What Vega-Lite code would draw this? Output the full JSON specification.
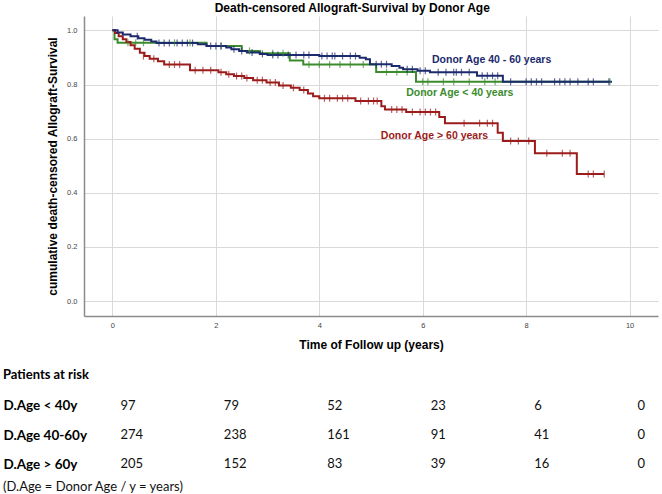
{
  "$schema": "https://vega.github.io/schema/vega-lite/v6.json",
  "padding": {"left": 3, "right": 4, "top": 2, "bottom": 0},
  "background": "white",
  "config": {
    "view": {"stroke": null},
    "font": "Liberation Sans"
  },
  "title": {"text": "(D.Age = Donor Age / y = years)", "orient": "bottom", "anchor": "start", "frame": "bounds", "font": "Lato", "fontSize": 13, "fontWeight": "normal", "color": "#111", "offset": 2},
  "spacing": 18,
  "datasets": {
    "steps": [
      {"g": "< 40", "t": 0, "s": 1.0},
      {"g": "< 40", "t": 0.04, "s": 0.967},
      {"g": "< 40", "t": 0.1, "s": 0.954},
      {"g": "< 40", "t": 1.82, "s": 0.942},
      {"g": "< 40", "t": 2.5, "s": 0.924},
      {"g": "< 40", "t": 2.85, "s": 0.915},
      {"g": "< 40", "t": 3.43, "s": 0.889},
      {"g": "< 40", "t": 3.69, "s": 0.874},
      {"g": "< 40", "t": 5.1, "s": 0.846},
      {"g": "< 40", "t": 5.87, "s": 0.81},
      {"g": "< 40", "t": 9.62, "s": 0.81},
      {"g": "> 60", "t": 0, "s": 1.0},
      {"g": "> 60", "t": 0.05, "s": 0.99},
      {"g": "> 60", "t": 0.12, "s": 0.978},
      {"g": "> 60", "t": 0.2, "s": 0.967},
      {"g": "> 60", "t": 0.27, "s": 0.957},
      {"g": "> 60", "t": 0.35, "s": 0.945},
      {"g": "> 60", "t": 0.43, "s": 0.932},
      {"g": "> 60", "t": 0.53, "s": 0.917},
      {"g": "> 60", "t": 0.62, "s": 0.905},
      {"g": "> 60", "t": 0.72, "s": 0.895},
      {"g": "> 60", "t": 0.88, "s": 0.886},
      {"g": "> 60", "t": 1.0, "s": 0.874},
      {"g": "> 60", "t": 1.5, "s": 0.853},
      {"g": "> 60", "t": 2.05, "s": 0.845},
      {"g": "> 60", "t": 2.2, "s": 0.838},
      {"g": "> 60", "t": 2.35, "s": 0.831},
      {"g": "> 60", "t": 2.55, "s": 0.824},
      {"g": "> 60", "t": 2.72, "s": 0.816},
      {"g": "> 60", "t": 2.98, "s": 0.807},
      {"g": "> 60", "t": 3.22, "s": 0.796},
      {"g": "> 60", "t": 3.45, "s": 0.788},
      {"g": "> 60", "t": 3.62, "s": 0.78},
      {"g": "> 60", "t": 3.78, "s": 0.767},
      {"g": "> 60", "t": 3.88, "s": 0.757},
      {"g": "> 60", "t": 4.0, "s": 0.749},
      {"g": "> 60", "t": 4.7, "s": 0.739},
      {"g": "> 60", "t": 5.2, "s": 0.72},
      {"g": "> 60", "t": 5.27, "s": 0.708},
      {"g": "> 60", "t": 5.68, "s": 0.698},
      {"g": "> 60", "t": 6.32, "s": 0.68},
      {"g": "> 60", "t": 6.43, "s": 0.657},
      {"g": "> 60", "t": 7.45, "s": 0.622},
      {"g": "> 60", "t": 7.55, "s": 0.591},
      {"g": "> 60", "t": 8.17, "s": 0.546},
      {"g": "> 60", "t": 8.98, "s": 0.469},
      {"g": "> 60", "t": 9.51, "s": 0.469},
      {"g": "40 - 60", "t": 0, "s": 1.0},
      {"g": "40 - 60", "t": 0.1, "s": 0.992},
      {"g": "40 - 60", "t": 0.2, "s": 0.985},
      {"g": "40 - 60", "t": 0.35, "s": 0.978},
      {"g": "40 - 60", "t": 0.5, "s": 0.971},
      {"g": "40 - 60", "t": 0.62, "s": 0.965},
      {"g": "40 - 60", "t": 0.75, "s": 0.959},
      {"g": "40 - 60", "t": 0.85, "s": 0.953},
      {"g": "40 - 60", "t": 1.65, "s": 0.949},
      {"g": "40 - 60", "t": 1.82, "s": 0.942},
      {"g": "40 - 60", "t": 2.2, "s": 0.937},
      {"g": "40 - 60", "t": 2.3, "s": 0.93},
      {"g": "40 - 60", "t": 2.45, "s": 0.924},
      {"g": "40 - 60", "t": 2.6, "s": 0.918},
      {"g": "40 - 60", "t": 2.85, "s": 0.913},
      {"g": "40 - 60", "t": 3.0, "s": 0.909},
      {"g": "40 - 60", "t": 4.0, "s": 0.905},
      {"g": "40 - 60", "t": 4.78, "s": 0.899},
      {"g": "40 - 60", "t": 4.9, "s": 0.893},
      {"g": "40 - 60", "t": 4.98, "s": 0.875},
      {"g": "40 - 60", "t": 5.4, "s": 0.868},
      {"g": "40 - 60", "t": 5.55, "s": 0.862},
      {"g": "40 - 60", "t": 5.62, "s": 0.856},
      {"g": "40 - 60", "t": 5.9, "s": 0.851},
      {"g": "40 - 60", "t": 6.14, "s": 0.845},
      {"g": "40 - 60", "t": 7.05, "s": 0.832},
      {"g": "40 - 60", "t": 7.55, "s": 0.81},
      {"g": "40 - 60", "t": 9.66, "s": 0.81}
    ],
    "censor": [
      {"g": "< 40", "t": 0.3, "s": 0.954}, {"g": "< 40", "t": 0.45, "s": 0.954}, {"g": "< 40", "t": 0.6, "s": 0.954},
      {"g": "< 40", "t": 1.2, "s": 0.954}, {"g": "< 40", "t": 1.5, "s": 0.954}, {"g": "< 40", "t": 2.1, "s": 0.942},
      {"g": "< 40", "t": 2.65, "s": 0.924}, {"g": "< 40", "t": 3.1, "s": 0.915}, {"g": "< 40", "t": 3.3, "s": 0.915},
      {"g": "< 40", "t": 3.8, "s": 0.874}, {"g": "< 40", "t": 4.0, "s": 0.874}, {"g": "< 40", "t": 4.2, "s": 0.874},
      {"g": "< 40", "t": 4.4, "s": 0.874}, {"g": "< 40", "t": 4.6, "s": 0.874}, {"g": "< 40", "t": 4.85, "s": 0.874},
      {"g": "< 40", "t": 5.3, "s": 0.846}, {"g": "< 40", "t": 5.5, "s": 0.846}, {"g": "< 40", "t": 5.7, "s": 0.846},
      {"g": "< 40", "t": 6.0, "s": 0.81}, {"g": "< 40", "t": 6.1, "s": 0.81}, {"g": "< 40", "t": 6.4, "s": 0.81},
      {"g": "< 40", "t": 6.6, "s": 0.81}, {"g": "< 40", "t": 6.9, "s": 0.81}, {"g": "< 40", "t": 7.2, "s": 0.81},
      {"g": "< 40", "t": 7.4, "s": 0.81}, {"g": "< 40", "t": 9.62, "s": 0.81},
      {"g": "> 60", "t": 0.6, "s": 0.905}, {"g": "> 60", "t": 0.8, "s": 0.895}, {"g": "> 60", "t": 1.1, "s": 0.874},
      {"g": "> 60", "t": 1.2, "s": 0.874}, {"g": "> 60", "t": 1.3, "s": 0.874}, {"g": "> 60", "t": 1.6, "s": 0.853},
      {"g": "> 60", "t": 1.75, "s": 0.853}, {"g": "> 60", "t": 1.9, "s": 0.853}, {"g": "> 60", "t": 2.1, "s": 0.845},
      {"g": "> 60", "t": 2.25, "s": 0.838}, {"g": "> 60", "t": 2.4, "s": 0.831}, {"g": "> 60", "t": 2.5, "s": 0.831},
      {"g": "> 60", "t": 2.6, "s": 0.824}, {"g": "> 60", "t": 2.8, "s": 0.816}, {"g": "> 60", "t": 2.9, "s": 0.816},
      {"g": "> 60", "t": 3.05, "s": 0.807}, {"g": "> 60", "t": 3.15, "s": 0.807}, {"g": "> 60", "t": 3.3, "s": 0.796},
      {"g": "> 60", "t": 3.5, "s": 0.788}, {"g": "> 60", "t": 3.7, "s": 0.78}, {"g": "> 60", "t": 4.1, "s": 0.749},
      {"g": "> 60", "t": 4.2, "s": 0.749}, {"g": "> 60", "t": 4.35, "s": 0.749}, {"g": "> 60", "t": 4.45, "s": 0.749},
      {"g": "> 60", "t": 4.55, "s": 0.749}, {"g": "> 60", "t": 4.8, "s": 0.739}, {"g": "> 60", "t": 4.95, "s": 0.739},
      {"g": "> 60", "t": 5.05, "s": 0.739}, {"g": "> 60", "t": 5.12, "s": 0.739}, {"g": "> 60", "t": 5.4, "s": 0.708},
      {"g": "> 60", "t": 5.5, "s": 0.708}, {"g": "> 60", "t": 5.6, "s": 0.708}, {"g": "> 60", "t": 5.8, "s": 0.698},
      {"g": "> 60", "t": 5.95, "s": 0.698}, {"g": "> 60", "t": 6.05, "s": 0.698}, {"g": "> 60", "t": 6.15, "s": 0.698},
      {"g": "> 60", "t": 6.25, "s": 0.698}, {"g": "> 60", "t": 6.8, "s": 0.657}, {"g": "> 60", "t": 7.1, "s": 0.657},
      {"g": "> 60", "t": 7.25, "s": 0.657}, {"g": "> 60", "t": 7.35, "s": 0.657}, {"g": "> 60", "t": 7.7, "s": 0.591},
      {"g": "> 60", "t": 7.85, "s": 0.591}, {"g": "> 60", "t": 8.05, "s": 0.591}, {"g": "> 60", "t": 8.4, "s": 0.546},
      {"g": "> 60", "t": 8.7, "s": 0.546}, {"g": "> 60", "t": 8.85, "s": 0.546}, {"g": "> 60", "t": 9.2, "s": 0.469},
      {"g": "> 60", "t": 9.3, "s": 0.469}, {"g": "> 60", "t": 9.51, "s": 0.469},
      {"g": "40 - 60", "t": 0.48, "s": 0.978}, {"g": "40 - 60", "t": 0.9, "s": 0.953}, {"g": "40 - 60", "t": 1.0, "s": 0.953},
      {"g": "40 - 60", "t": 1.1, "s": 0.953}, {"g": "40 - 60", "t": 1.25, "s": 0.953}, {"g": "40 - 60", "t": 1.35, "s": 0.953},
      {"g": "40 - 60", "t": 1.45, "s": 0.953}, {"g": "40 - 60", "t": 1.55, "s": 0.953}, {"g": "40 - 60", "t": 1.9, "s": 0.942},
      {"g": "40 - 60", "t": 2.0, "s": 0.942}, {"g": "40 - 60", "t": 2.1, "s": 0.942}, {"g": "40 - 60", "t": 2.35, "s": 0.93},
      {"g": "40 - 60", "t": 2.5, "s": 0.924}, {"g": "40 - 60", "t": 2.7, "s": 0.918}, {"g": "40 - 60", "t": 2.9, "s": 0.913},
      {"g": "40 - 60", "t": 3.1, "s": 0.909}, {"g": "40 - 60", "t": 3.2, "s": 0.909}, {"g": "40 - 60", "t": 3.4, "s": 0.909},
      {"g": "40 - 60", "t": 3.55, "s": 0.909}, {"g": "40 - 60", "t": 3.7, "s": 0.909}, {"g": "40 - 60", "t": 3.8, "s": 0.909},
      {"g": "40 - 60", "t": 4.05, "s": 0.905}, {"g": "40 - 60", "t": 4.15, "s": 0.905}, {"g": "40 - 60", "t": 4.25, "s": 0.905},
      {"g": "40 - 60", "t": 4.3, "s": 0.905}, {"g": "40 - 60", "t": 4.45, "s": 0.905}, {"g": "40 - 60", "t": 4.6, "s": 0.905},
      {"g": "40 - 60", "t": 4.7, "s": 0.905}, {"g": "40 - 60", "t": 5.1, "s": 0.875}, {"g": "40 - 60", "t": 5.2, "s": 0.875},
      {"g": "40 - 60", "t": 5.3, "s": 0.875}, {"g": "40 - 60", "t": 5.7, "s": 0.856}, {"g": "40 - 60", "t": 5.8, "s": 0.856},
      {"g": "40 - 60", "t": 5.95, "s": 0.851}, {"g": "40 - 60", "t": 6.05, "s": 0.851}, {"g": "40 - 60", "t": 6.3, "s": 0.845},
      {"g": "40 - 60", "t": 6.45, "s": 0.845}, {"g": "40 - 60", "t": 6.6, "s": 0.845}, {"g": "40 - 60", "t": 6.65, "s": 0.845},
      {"g": "40 - 60", "t": 6.75, "s": 0.845}, {"g": "40 - 60", "t": 6.9, "s": 0.845}, {"g": "40 - 60", "t": 7.15, "s": 0.832},
      {"g": "40 - 60", "t": 7.25, "s": 0.832}, {"g": "40 - 60", "t": 7.35, "s": 0.832}, {"g": "40 - 60", "t": 7.45, "s": 0.832},
      {"g": "40 - 60", "t": 7.7, "s": 0.81}, {"g": "40 - 60", "t": 8.0, "s": 0.81}, {"g": "40 - 60", "t": 8.1, "s": 0.81},
      {"g": "40 - 60", "t": 8.2, "s": 0.81}, {"g": "40 - 60", "t": 8.3, "s": 0.81}, {"g": "40 - 60", "t": 8.55, "s": 0.81},
      {"g": "40 - 60", "t": 8.65, "s": 0.81}, {"g": "40 - 60", "t": 8.75, "s": 0.81}, {"g": "40 - 60", "t": 8.85, "s": 0.81},
      {"g": "40 - 60", "t": 9.0, "s": 0.81}, {"g": "40 - 60", "t": 9.2, "s": 0.81}, {"g": "40 - 60", "t": 9.3, "s": 0.81},
      {"g": "40 - 60", "t": 9.6, "s": 0.81}
    ],
    "labels": [
      {"g": "< 40", "label": "Donor Age < 40 years", "t": 5.68, "s": 0.768},
      {"g": "> 60", "label": "Donor Age > 60 years", "t": 5.19, "s": 0.61},
      {"g": "40 - 60", "label": "Donor Age 40 - 60 years", "t": 6.18, "s": 0.89}
    ],
    "risk": [
      {"row": "D.Age < 40y", "t": 0, "n": 97}, {"row": "D.Age < 40y", "t": 2, "n": 79}, {"row": "D.Age < 40y", "t": 4, "n": 52},
      {"row": "D.Age < 40y", "t": 6, "n": 23}, {"row": "D.Age < 40y", "t": 8, "n": 6}, {"row": "D.Age < 40y", "t": 10, "n": 0},
      {"row": "D.Age 40-60y", "t": 0, "n": 274}, {"row": "D.Age 40-60y", "t": 2, "n": 238}, {"row": "D.Age 40-60y", "t": 4, "n": 161},
      {"row": "D.Age 40-60y", "t": 6, "n": 91}, {"row": "D.Age 40-60y", "t": 8, "n": 41}, {"row": "D.Age 40-60y", "t": 10, "n": 0},
      {"row": "D.Age > 60y", "t": 0, "n": 205}, {"row": "D.Age > 60y", "t": 2, "n": 152}, {"row": "D.Age > 60y", "t": 4, "n": 83},
      {"row": "D.Age > 60y", "t": 6, "n": 39}, {"row": "D.Age > 60y", "t": 8, "n": 16}, {"row": "D.Age > 60y", "t": 10, "n": 0}
    ]
  },
  "vconcat": [
    {
      "width": 574,
      "height": 300,
      "title": {"text": "Death-censored Allograft-Survival by Donor Age", "anchor": "middle", "frame": "bounds", "fontSize": 12, "fontWeight": "bold", "color": "#000", "offset": 1},
      "encoding": {
        "x": {"field": "t", "type": "quantitative", "scale": {"domain": [-0.55, 10.55], "nice": false, "zero": false},
          "axis": {"values": [0, 2, 4, 6, 8, 10], "grid": true, "gridColor": "#d9d9d9", "domainColor": "#8c8c8c", "domainWidth": 1.5, "ticks": false, "labelFontSize": 7.5, "labelColor": "#444", "labelPadding": 5, "title": "Time of Follow up (years)", "titleFontSize": 12, "titleFontWeight": "bold", "titleColor": "#000", "titlePadding": 11}},
        "y": {"field": "s", "type": "quantitative", "scale": {"domain": [-0.055, 1.053], "nice": false, "zero": false},
          "axis": {"values": [0, 0.2, 0.4, 0.6, 0.8, 1.0], "format": ".1f", "grid": true, "gridColor": "#d9d9d9", "domainColor": "#8c8c8c", "domainWidth": 1.5, "ticks": false, "labelFontSize": 7.5, "labelColor": "#444", "labelPadding": 7, "title": "cumulative death-censored Allograft-Survival", "titleFontSize": 12, "titleFontWeight": "bold", "titleColor": "#000", "titlePadding": 7}},
        "color": {"field": "g", "type": "nominal", "scale": {"domain": ["< 40", "> 60", "40 - 60"], "range": ["#3c8c2e", "#9c1c1c", "#1c2a6e"]}, "legend": null}
      },
      "layer": [
        {"data": {"name": "steps"}, "mark": {"type": "line", "interpolate": "step-after", "strokeWidth": 2}},
        {"data": {"name": "censor"}, "mark": {"type": "tick", "orient": "vertical", "size": 7, "thickness": 1.2}},
        {"data": {"name": "labels"}, "mark": {"type": "text", "align": "left", "baseline": "middle", "fontSize": 10.5, "fontWeight": "bold"},
          "encoding": {"text": {"field": "label"}}}
      ]
    },
    {
      "width": 574,
      "height": 88,
      "data": {"name": "risk"},
      "title": {"text": "Patients at risk", "anchor": "start", "frame": "bounds", "font": "Lato", "fontSize": 13, "fontWeight": "bold", "color": "#000", "offset": 9},
      "mark": {"type": "text", "align": "left", "baseline": "middle", "dx": 8, "font": "Lato", "fontSize": 13, "color": "#111"},
      "encoding": {
        "x": {"field": "t", "type": "quantitative", "scale": {"domain": [-0.55, 10.55], "nice": false, "zero": false}, "axis": null},
        "y": {"field": "row", "type": "nominal", "sort": ["D.Age < 40y", "D.Age 40-60y", "D.Age > 60y"], "scale": {"type": "point", "padding": 0.5},
          "axis": {"title": null, "orient": "left", "labelAlign": "left", "labelPadding": 81, "ticks": false, "domain": false, "grid": false, "labelFont": "Lato", "labelFontSize": 13.5, "labelFontWeight": "bold", "labelColor": "#000"}},
        "text": {"field": "n"}
      }
    }
  ]
}
